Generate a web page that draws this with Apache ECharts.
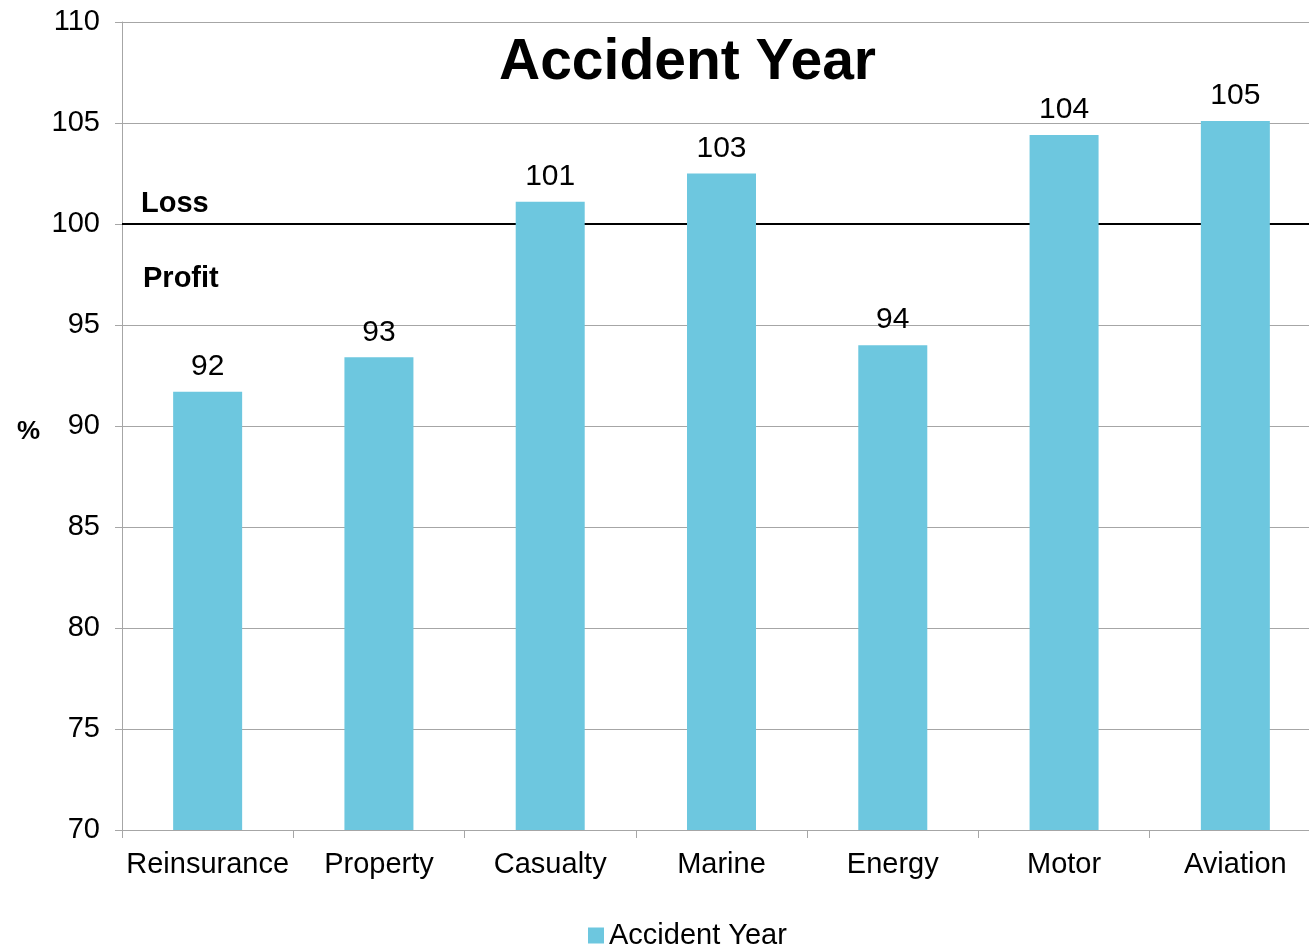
<!DOCTYPE html>
<html>
<head>
<meta charset="utf-8">
<script src="https://cdn.jsdelivr.net/npm/echarts@6/dist/echarts.min.js"></script>
<style>html,body{margin:0;padding:0;background:#fff;}#c{width:1309px;height:950px;}</style>
</head>
<body>
<div id="c"></div>
<script>
const categories = ['Reinsurance', 'Property', 'Casualty', 'Marine', 'Energy', 'Motor', 'Aviation'];
const accidentYear = [91.7, 93.4, 101.1, 102.5, 94.0, 104.4, 105.1];
const yTicks = { min: 70, max: 110, interval: 5 };
const breakEven = 100;

const F = 'Liberation Sans, Arial, sans-serif';
const chart = echarts.init(document.getElementById('c'));
chart.setOption({
  animation: false,
  title: [
    { text: 'Accident Year', left: 494, top: 30, textStyle: { fontFamily: F, fontSize: 57, fontWeight: 'bold', color: '#000' } },
    { text: '%', left: 12, top: 414, textStyle: { fontFamily: F, fontSize: 26, fontWeight: 'bold', color: '#000' } },
    { text: 'Loss', left: 136, top: 184, textStyle: { fontFamily: F, fontSize: 29, fontWeight: 'bold', color: '#000' } },
    { text: 'Profit', left: 138, top: 259, textStyle: { fontFamily: F, fontSize: 29, fontWeight: 'bold', color: '#000' } }
  ],
  legend: {
    bottom: 0, left: 588, padding: 0, itemWidth: 16, itemHeight: 16, itemGap: 6,
    icon: 'rect',
    textStyle: { fontFamily: F, fontSize: 29, color: '#000' },
    data: ['Accident Year']
  },
  grid: { left: 122, right: -12, top: 22, bottom: 120, outerBoundsMode: 'none', containLabel: false },
  xAxis: {
    type: 'category', data: categories,
    axisLine: { lineStyle: { color: '#a6a6a6', width: 1 } },
    axisTick: { show: true, length: 8, lineStyle: { color: '#a6a6a6' } },
    axisLabel: { fontFamily: F, fontSize: 29, color: '#000', margin: 20, interval: 0 }
  },
  yAxis: {
    type: 'value', min: yTicks.min, max: yTicks.max, interval: yTicks.interval,
    axisLine: { show: true, lineStyle: { color: '#a6a6a6', width: 1 } },
    axisTick: { show: true, length: 7, lineStyle: { color: '#a6a6a6' } },
    axisLabel: { fontFamily: F, fontSize: 29, color: '#000', margin: 22 },
    splitLine: { lineStyle: { color: '#a6a6a6', width: 1 } }
  },
  series: [{
    name: 'Accident Year', type: 'bar', data: accidentYear, barWidth: 69, z: 3,
    itemStyle: { color: '#6dc7df' },
    label: { show: true, position: 'top', distance: 10, fontFamily: F, fontSize: 30, color: '#000',
      formatter: p => Math.round(p.value) },
    markLine: {
      z: 1, silent: true, symbol: 'none', label: { show: false },
      lineStyle: { color: '#000', width: 2, type: 'solid' },
      data: [{ yAxis: breakEven }]
    }
  }]
});
</script>
</body>
</html>
